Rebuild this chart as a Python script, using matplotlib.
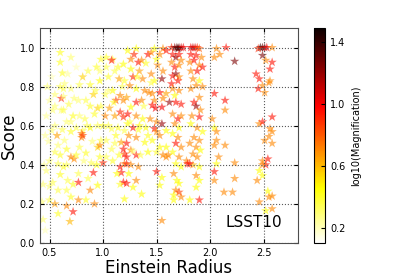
import numpy as np
import matplotlib
matplotlib.use('Agg')
from matplotlib import pyplot as plt

# Einstein radius, score, log10(magnification) for each lens
radius = [
    0.46, 0.44, 0.43, 0.50, 0.50, 0.53, 0.47, 0.50, 0.55, 0.49, 0.52, 0.55, 0.47, 0.53, 0.50, 0.55, 0.60, 0.52, 0.60, 0.60,
    0.58, 0.55, 0.58, 0.60, 0.58, 0.60, 0.57, 0.61, 0.63, 0.62, 0.61,
    0.66, 0.69, 0.72, 0.77, 0.77, 0.70, 0.66, 0.67, 0.73, 0.70, 0.66, 0.64, 0.70, 0.75, 0.66, 0.72, 0.68, 0.73, 0.70,
    0.78, 0.77, 0.64, 0.63, 0.77, 0.78, 0.80, 0.75, 0.67, 0.63,
    0.81, 0.88, 0.97, 0.94, 0.98, 0.84, 0.91, 0.95, 0.92, 0.88, 0.81, 0.80, 0.81, 0.84, 0.89, 0.94, 0.97, 0.95, 0.97, 0.91,
    0.95, 0.88, 0.92, 0.84, 0.86, 0.83, 1.00, 0.98,
    1.03, 1.09, 1.08, 1.14, 1.19, 1.05, 1.11, 1.15, 1.20, 1.02, 1.09, 1.16, 1.19, 1.12, 1.06, 1.02, 1.11, 1.16, 1.19, 1.08,
    1.14, 1.20, 1.03, 1.11, 1.17, 1.19, 1.20, 1.16, 1.20, 1.17, 1.13, 1.19, 1.09, 1.20, 1.16, 1.03,
    1.23, 1.31, 1.26, 1.29, 1.33, 1.36, 1.26, 1.34, 1.28, 1.37, 1.25, 1.31, 1.39, 1.22, 1.31, 1.36, 1.26, 1.23, 1.31, 1.37,
    1.23, 1.28, 1.34, 1.24, 1.31, 1.39, 1.22, 1.26, 1.31, 1.22, 1.26, 1.33, 1.24, 1.31, 1.22, 1.36, 1.28, 1.22,
    1.42, 1.45, 1.48, 1.50, 1.53, 1.56, 1.59, 1.51, 1.56, 1.45, 1.48, 1.55, 1.43, 1.46, 1.53, 1.59, 1.48, 1.56, 1.46, 1.49,
    1.55, 1.44, 1.50, 1.55, 1.48, 1.50, 1.53, 1.46, 1.53, 1.50, 1.56, 1.61, 1.50, 1.55, 1.53, 1.55, 1.59, 1.59, 1.42, 1.40,
    1.64, 1.67, 1.69, 1.71, 1.73, 1.75, 1.70, 1.65, 1.68, 1.71, 1.64, 1.67, 1.71, 1.73, 1.65, 1.68, 1.71, 1.64, 1.70, 1.65,
    1.71, 1.67, 1.62, 1.68, 1.73, 1.65, 1.70, 1.73, 1.67, 1.71, 1.65, 1.70, 1.68, 1.73, 1.65, 1.71, 1.68, 1.73, 1.66, 1.69,
    1.71, 1.68, 1.66, 1.66, 1.73, 1.71, 1.59, 1.78, 1.79,
    1.82, 1.84, 1.86, 1.88, 1.90, 1.82, 1.87, 1.92, 1.81, 1.85, 1.90, 1.82, 1.88, 1.93, 1.84, 1.90, 1.87, 1.93, 1.82, 1.85,
    1.87, 1.90, 1.91, 1.83, 1.90, 1.82, 1.88, 1.93, 1.85, 1.90, 1.81, 1.87, 1.91, 1.84, 1.88, 1.90, 1.84, 1.81, 1.87, 1.90,
    1.81, 1.87, 1.90,
    2.06, 2.09, 2.15, 2.04, 2.04, 2.14, 2.14, 2.02, 2.04, 2.06, 2.06, 2.04, 2.14, 2.08, 2.06, 2.04, 2.04, 2.13, 2.23, 2.23,
    2.23, 2.21,
    2.47, 2.49, 2.51, 2.53, 2.45, 2.49, 2.52, 2.58, 2.58, 2.56, 2.43, 2.46, 2.55, 2.45, 2.49, 2.51, 2.56, 2.58, 2.46, 2.49,
    2.56, 2.58, 2.55, 2.51, 2.58, 2.54, 2.52, 2.49, 2.46, 2.49, 2.44, 2.46, 2.55, 2.58, 2.52, 2.58, 2.54, 2.49,
    0.55, 0.62, 0.70, 0.75, 0.85, 0.90, 0.88, 0.93, 0.58, 0.66, 0.72, 0.82, 0.95, 1.00, 1.05, 1.05, 1.10, 0.98, 0.45, 0.44,
    0.46, 0.48, 0.63, 0.78, 0.86, 1.12, 1.08, 1.15, 1.25, 1.32, 1.38, 1.42, 1.45, 1.40, 1.35, 1.28, 1.33, 1.18, 1.03, 0.97,
    0.70,
]
score = [
    0.065, 0.12, 0.21, 0.22, 0.29, 0.31, 0.37, 0.42, 0.465, 0.52, 0.575, 0.60, 0.65, 0.68, 0.73, 0.76, 0.80, 0.85, 0.925, 0.975,
    0.15, 0.20, 0.27, 0.35, 0.405, 0.45, 0.55, 0.74, 0.79, 0.87, 0.68,
    0.19, 0.11, 0.16, 0.22, 0.31, 0.235, 0.27, 0.32, 0.43, 0.44, 0.48, 0.525, 0.57, 0.59, 0.62, 0.65, 0.71, 0.74, 0.79,
    0.81, 0.73, 0.815, 0.39, 0.355, 0.49, 0.54, 0.90, 0.865, 0.75,
    0.85, 0.81, 0.83, 0.90, 0.94, 0.73, 0.76, 0.69, 0.66, 0.59, 0.575, 0.56, 0.55, 0.46, 0.41, 0.40, 0.44, 0.49, 0.50, 0.36,
    0.295, 0.27, 0.20, 0.22, 0.33, 0.635, 0.41, 0.525,
    0.95, 0.94, 0.935, 0.90, 0.915, 0.85, 0.88, 0.84, 0.83, 0.76, 0.78, 0.755, 0.73, 0.73, 0.69, 0.65, 0.65, 0.67, 0.645, 0.585,
    0.59, 0.575, 0.525, 0.51, 0.515, 0.48, 0.455, 0.39, 0.405, 0.36, 0.355, 0.31, 0.42, 0.225, 0.30, 0.44,
    0.985, 0.995, 0.94, 0.965, 0.925, 0.935, 0.89, 0.88, 0.85, 0.84, 0.805, 0.79, 0.78, 0.745, 0.72, 0.73, 0.695, 0.66, 0.65, 0.635,
    0.61, 0.59, 0.60, 0.55, 0.54, 0.515, 0.51, 0.475, 0.45, 0.405, 0.40, 0.39, 0.355, 0.32, 0.305, 0.25, 0.285, 0.44,
    0.965, 0.975, 0.995, 0.94, 0.965, 0.995, 0.985, 0.91, 0.88, 0.865, 0.83, 0.84, 0.77, 0.765, 0.77, 0.765, 0.73, 0.74, 0.705, 0.69,
    0.695, 0.635, 0.62, 0.61, 0.585, 0.57, 0.55, 0.525, 0.49, 0.465, 0.45, 0.45, 0.365, 0.335, 0.295, 0.115, 0.49, 0.575, 0.465, 0.59,
    1.0, 1.0, 1.0, 1.0, 1.0, 1.0, 0.995, 0.965, 0.95, 0.965, 0.925, 0.90, 0.91, 0.935, 0.855, 0.865, 0.85, 0.815, 0.83, 0.79,
    0.78, 0.755, 0.72, 0.72, 0.71, 0.66, 0.635, 0.65, 0.61, 0.59, 0.56, 0.54, 0.51, 0.49, 0.465, 0.44, 0.405, 0.39, 0.355, 0.32,
    0.305, 0.27, 0.245, 0.22, 0.235, 0.26, 0.44, 0.42, 0.405,
    1.0, 1.0, 1.0, 1.0, 0.995, 0.965, 0.96, 0.95, 0.925, 0.935, 0.91, 0.88, 0.88, 0.90, 0.84, 0.83, 0.805, 0.80, 0.79, 0.72,
    0.70, 0.745, 0.68, 0.65, 0.645, 0.61, 0.59, 0.57, 0.54, 0.525, 0.51, 0.49, 0.475, 0.455, 0.44, 0.39, 0.40, 0.405, 0.345, 0.22,
    0.22, 0.285, 0.32,
    0.995, 0.965, 1.0, 0.95, 0.765, 0.73, 0.68, 0.635, 0.59, 0.57, 0.525, 0.50, 0.50, 0.44, 0.405, 0.365, 0.32, 0.26, 0.93, 0.41,
    0.33, 0.26,
    1.0, 1.0, 1.0, 1.0, 0.995, 0.96, 0.935, 1.0, 0.925, 0.89, 0.865, 0.84, 0.82, 0.79, 0.805, 0.77, 0.83, 0.645, 0.61, 0.62,
    0.585, 0.57, 0.545, 0.525, 0.51, 0.43, 0.40, 0.42, 0.37, 0.345, 0.32, 0.21, 0.235, 0.24, 0.165, 0.175, 0.265, 0.40,
    0.70, 0.58, 0.62, 0.45, 0.60, 0.52, 0.70, 0.78, 0.50, 0.40, 0.30, 0.42, 0.60, 0.60, 0.60, 0.78, 0.72, 0.70, 0.40, 0.30,
    0.55, 0.80, 0.68, 0.65, 0.88, 0.55, 0.48, 0.45, 0.62, 0.85, 0.70, 0.55, 0.82, 0.92, 0.45, 0.47, 0.58, 0.80, 0.90, 0.88,
    0.95,
]
logmag = [
    0.2, 0.3, 0.3, 0.35, 0.3, 0.35, 0.3, 0.3, 0.35, 0.25, 0.3, 0.3, 0.25, 0.3, 0.25, 0.3, 0.35, 0.2, 0.4, 0.4,
    0.4, 0.65, 0.35, 0.4, 0.35, 0.4, 0.65, 0.9, 0.35, 0.4, 0.3,
    0.7, 0.6, 0.95, 0.7, 0.95, 0.4, 0.35, 0.35, 0.7, 0.7, 0.4, 0.3, 0.4, 0.35, 0.3, 0.4, 0.35, 0.3, 0.3,
    0.35, 0.3, 0.3, 0.4, 0.35, 0.35, 0.7, 0.2, 0.25, 0.3,
    0.55, 0.4, 0.45, 0.4, 0.4, 0.35, 0.55, 0.55, 0.4, 0.45, 0.35, 0.75, 0.85, 0.4, 0.35, 0.45, 0.4, 0.55, 0.7, 0.95,
    0.45, 0.7, 0.7, 0.4, 0.35, 0.35, 0.9, 0.35,
    0.4, 0.35, 0.95, 0.4, 0.45, 0.4, 0.35, 0.65, 0.4, 0.35, 0.45, 0.7, 0.7, 0.85, 0.65, 0.7, 0.65, 0.9, 0.9, 0.35,
    0.4, 0.35, 0.35, 0.35, 0.65, 0.95, 0.9, 0.95, 0.7, 0.95, 0.45, 0.95, 0.4, 0.45, 0.4, 0.35,
    0.45, 0.45, 0.7, 0.9, 0.95, 0.7, 0.45, 0.65, 0.9, 0.7, 0.7, 0.45, 0.7, 0.65, 0.95, 0.7, 0.45, 0.95, 0.7, 0.45,
    0.45, 0.95, 0.45, 0.7, 0.7, 0.45, 0.95, 0.7, 0.95, 0.95, 0.7, 0.7, 0.45, 0.7, 0.95, 0.45, 0.45, 0.95,
    0.95, 0.7, 0.45, 0.45, 0.7, 0.7, 0.95, 0.7, 0.7, 0.7, 0.45, 1.2, 0.7, 0.7, 0.95, 0.65, 0.7, 0.7, 0.95, 1.0,
    1.0, 0.7, 0.7, 1.2, 0.95, 0.7, 0.7, 0.45, 0.45, 0.4, 0.7, 0.7, 0.95, 0.45, 0.45, 0.7, 0.45, 0.45, 0.45, 0.45,
    0.9, 1.2, 1.3, 1.25, 1.1, 1.0, 1.35, 0.95, 1.2, 0.95, 0.7, 0.95, 0.7, 0.7, 0.95, 1.2, 0.7, 0.95, 0.95, 0.7,
    0.7, 0.45, 1.2, 0.95, 0.95, 0.7, 0.95, 0.7, 0.7, 0.45, 0.45, 0.7, 0.95, 0.7, 0.45, 0.7, 0.45, 0.45, 0.7, 0.45,
    0.45, 0.7, 0.45, 0.45, 0.7, 0.85, 0.7, 0.7, 0.95,
    1.0, 1.1, 1.05, 0.9, 0.8, 0.95, 0.95, 0.7, 0.7, 0.95, 0.7, 0.7, 0.95, 0.95, 0.7, 0.45, 0.7, 0.7, 0.7, 0.95,
    1.2, 0.7, 0.7, 0.7, 0.95, 0.45, 0.7, 0.45, 0.7, 0.7, 0.7, 0.7, 0.45, 0.7, 0.7, 0.45, 0.6, 0.95, 0.7, 0.95,
    0.45, 0.45, 0.45,
    0.7, 0.7, 0.95, 0.7, 0.95, 0.95, 0.7, 0.7, 0.45, 0.7, 0.7, 0.7, 0.7, 0.7, 0.45, 0.95, 0.7, 0.7, 1.25, 0.7,
    0.7, 0.7,
    1.4, 1.3, 1.2, 1.0, 0.9, 1.25, 0.7, 0.7, 0.95, 0.95, 0.95, 0.95, 0.7, 0.95, 0.7, 0.7, 0.7, 0.95, 0.7, 0.95,
    0.7, 0.7, 0.7, 0.7, 0.7, 0.95, 0.95, 0.7, 0.45, 0.45, 0.7, 0.7, 0.7, 0.7, 0.45, 0.7, 0.45, 0.7,
    0.3, 0.35, 0.3, 0.4, 0.35, 0.3, 0.4, 0.35, 0.3, 0.35, 0.4, 0.3, 0.35, 0.4, 0.35, 0.3, 0.4, 0.35, 0.25, 0.3,
    0.25, 0.3, 0.35, 0.3, 0.35, 0.4, 0.35, 0.4, 0.35, 0.4, 0.35, 0.4, 0.35, 0.4, 0.35, 0.3, 0.4, 0.35, 0.35, 0.3,
    0.3,
]

cbar_ticks = [0.2, 0.6, 1.0, 1.4]

fig = plt.figure(figsize=(3.95, 2.78), dpi=100)
ax = fig.add_axes([0.101, 0.126, 0.653, 0.773])
cax = fig.add_axes([0.795, 0.126, 0.028, 0.773])

sc = ax.scatter(radius, score, c=logmag, cmap='hot_r', vmin=0.1, vmax=1.49,
                marker='*', s=50, alpha=0.6, edgecolors='none')

ax.set_xlim(0.41, 2.82)
ax.set_ylim(0, 1.1)
ax.set_xticks([0.5, 1.0, 1.5, 2.0, 2.5])
ax.set_yticks([0.0, 0.2, 0.4, 0.6, 0.8, 1.0])
ax.grid(True, color='0.35', linestyle=':', linewidth=0.8)
ax.tick_params(direction='in', labelsize=7, top=True, right=True, length=3)
for sp in ax.spines.values():
    sp.set_color('0.3')
ax.set_xlabel('Einstein Radius', fontsize=12, labelpad=1)
ax.set_ylabel('Score', fontsize=12, labelpad=1)
ax.text(0.94, 0.075, 'LSST10', transform=ax.transAxes, ha='right', va='baseline', fontsize=11)

cb = fig.colorbar(sc, cax=cax)
cb.solids.set_alpha(1)
cb.set_ticks(cbar_ticks)
cb.ax.tick_params(labelsize=7, direction='in', length=3)
cb.set_label('log10(Magnification)', fontsize=7, labelpad=4)

fig.savefig('out.png', dpi=100)
